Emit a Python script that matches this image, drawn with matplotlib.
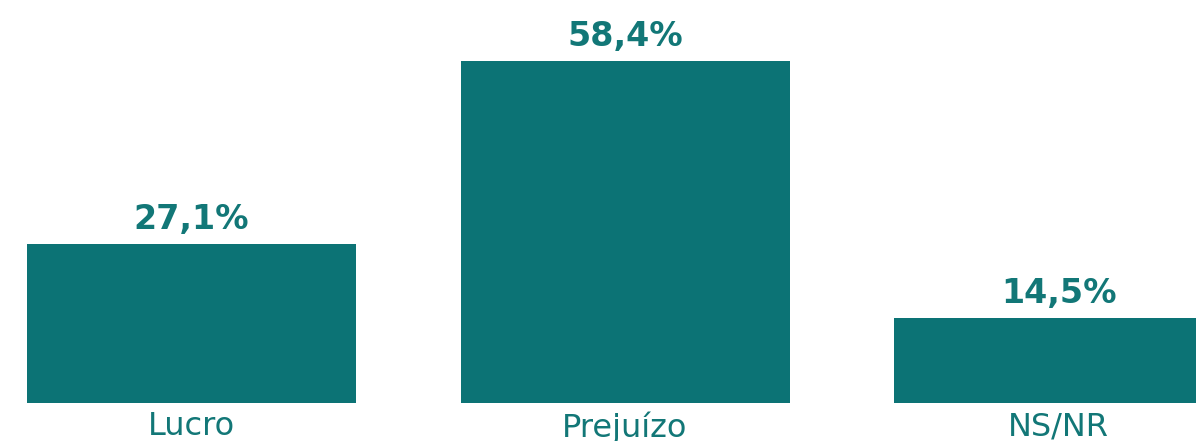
import matplotlib
matplotlib.use('Agg')
import matplotlib.pyplot as plt

# data
categories = ['Lucro', 'Prejuízo', 'NS/NR']
values = [27.1, 58.4, 14.5]
value_labels = ['27,1%', '58,4%', '14,5%']

bar_color = '#0c7375'
text_color = '#127777'

fig = plt.figure(figsize=(11.96, 4.41), dpi=100)
# axes runs from the baseline (38 px up) to the top edge
ax = fig.add_axes([0, 38 / 441, 1, 403 / 441])

x = list(range(len(categories)))
bars = ax.bar(x, values, width=0.759, color=bar_color)

ax.set_xlim(-0.4418, 2.317)
ax.set_ylim(0, 68.8)

for xi, v, lab in zip(x, values, value_labels):
	ax.annotate(lab, (xi, v), xytext=(0, 6), textcoords='offset points',
		ha='center', va='bottom', fontsize=24, fontweight='bold',
		color=text_color, family='DejaVu Sans')

for xi, cat in zip(x, categories):
	ax.annotate(cat, (xi, 0), xytext=(0, -6), textcoords='offset points',
		ha='center', va='top', fontsize=23, fontweight='normal',
		color=text_color, family='DejaVu Sans', annotation_clip=False)

ax.axis('off')

fig.savefig('out.png', dpi=100)
